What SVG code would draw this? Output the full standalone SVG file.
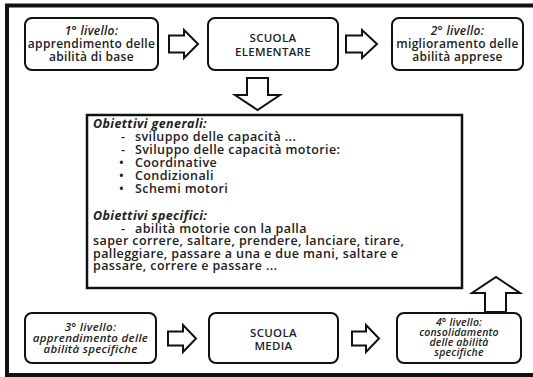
<svg xmlns="http://www.w3.org/2000/svg" width="533" height="377" viewBox="0 0 533 377">
<style>
.box{fill:#fff;stroke:#111;stroke-width:2}
.arr{fill:#fff;stroke:#111;stroke-width:2;stroke-linejoin:miter}
text{font-family:"Open Sans","DejaVu Sans",sans-serif;fill:#222}
.bt{font-size:12px;font-weight:600;text-anchor:middle;letter-spacing:0.3px}
.sc{font-size:11.5px;font-weight:600;text-anchor:middle;letter-spacing:0.3px}
.b3{font-size:11.5px;font-weight:600;text-anchor:middle;letter-spacing:0.3px}
.b4{font-size:10.5px;font-weight:600;text-anchor:middle;letter-spacing:0.2px}
.it{font-style:italic}
.mt{font-size:12.5px;font-weight:600;letter-spacing:0.4px}
</style>
<rect x="0" y="0" width="533" height="377" fill="#fff"/>
<path d="M7,377 V5.5 H533" fill="none" stroke="#111" stroke-width="4"/>
<path d="M5,375 H533" fill="none" stroke="#111" stroke-width="4"/>
<g id="n1">
<rect class="box" x="25" y="18" width="133" height="52" rx="7"/>
<text class="bt" x="91.5"><tspan class="it" x="91.5" y="35">1° livello:</tspan><tspan x="91.5" y="48">apprendimento delle</tspan><tspan x="91.5" y="60.5">abilità di base</tspan></text>
</g>
<g id="n2">
<rect class="box" x="208" y="18" width="130" height="52" rx="7"/>
<text class="sc" x="273"><tspan x="273" y="42">SCUOLA</tspan><tspan x="273" y="56">ELEMENTARE</tspan></text>
</g>
<g id="n3">
<rect class="box" x="392" y="18" width="131" height="52" rx="7"/>
<text class="bt" x="457.5"><tspan class="it" x="457.5" y="35">2° livello:</tspan><tspan x="457.5" y="48">miglioramento delle</tspan><tspan x="457.5" y="60.5">abilità apprese</tspan></text>
</g>
<g id="n4">
<rect x="87" y="115" width="375" height="173" fill="#fff" stroke="#111" stroke-width="2.5"/>
<text class="mt">
<tspan x="93" y="127.5" font-weight="700" font-style="italic">Obiettivi generali:</tspan>
<tspan x="121" y="141">-</tspan><tspan x="135" y="141">sviluppo delle capacità ...</tspan>
<tspan x="121" y="154">-</tspan><tspan x="135" y="154">Sviluppo delle capacità motorie:</tspan>
<tspan x="119" y="166.5">•</tspan><tspan x="135" y="166.5">Coordinative</tspan>
<tspan x="119" y="179.5">•</tspan><tspan x="135" y="179.5">Condizionali</tspan>
<tspan x="119" y="193">•</tspan><tspan x="135" y="193">Schemi motori</tspan>
<tspan x="93" y="220" font-weight="700" font-style="italic">Obiettivi specifici:</tspan>
<tspan x="121" y="232.5">-</tspan><tspan x="135" y="232.5">abilità motorie con la palla</tspan>
<tspan x="93" y="245">saper correre, saltare, prendere, lanciare,  tirare,</tspan>
<tspan x="93" y="257.5">palleggiare,  passare a una e due mani, saltare e</tspan>
<tspan x="93" y="269.5">passare, correre e passare ...</tspan>
</text>
</g>
<g id="n5">
<rect class="box" x="25" y="313" width="131" height="50" rx="7"/>
<text class="b3 it" x="90.5"><tspan x="90.5" y="331">3° livello:</tspan><tspan x="90.5" y="342">apprendimento delle</tspan><tspan x="90.5" y="353">abilità specifiche</tspan></text>
</g>
<g id="n6">
<rect class="box" x="209" y="313" width="129" height="50" rx="7"/>
<text class="sc" x="273.5"><tspan x="273.5" y="337">SCUOLA</tspan><tspan x="273.5" y="350">MEDIA</tspan></text>
</g>
<g id="n7">
<rect class="box" x="397" y="313" width="124" height="50" rx="7"/>
<text class="b4 it" x="459"><tspan x="459" y="326">4° livello:</tspan><tspan x="459" y="336">consolidamento</tspan><tspan x="459" y="346">delle abilità</tspan><tspan x="459" y="356">specifiche</tspan></text>
</g>
<g id="connectors">
<path class="arr" d="M169,35.5 H184 V30 L198,44 L184,58 V52.5 H169 Z"/>
<path class="arr" d="M346,35.5 H362 V30 L377,44 L362,58 V52.5 H346 Z"/>
<path class="arr" d="M247,78 H268 V95 H280 L257.5,110 L235,95 H247 Z"/>
<path class="arr" d="M485,312 V293 H472 L496,277 L520,293 H506 V312 Z"/>
<path class="arr" d="M168,331.5 H183 V325 L196,338.5 L183,352 V345.5 H168 Z"/>
<path class="arr" d="M352,331.5 H366 V325 L379,338.5 L366,352 V345.5 H352 Z"/>
</g>
</svg>
